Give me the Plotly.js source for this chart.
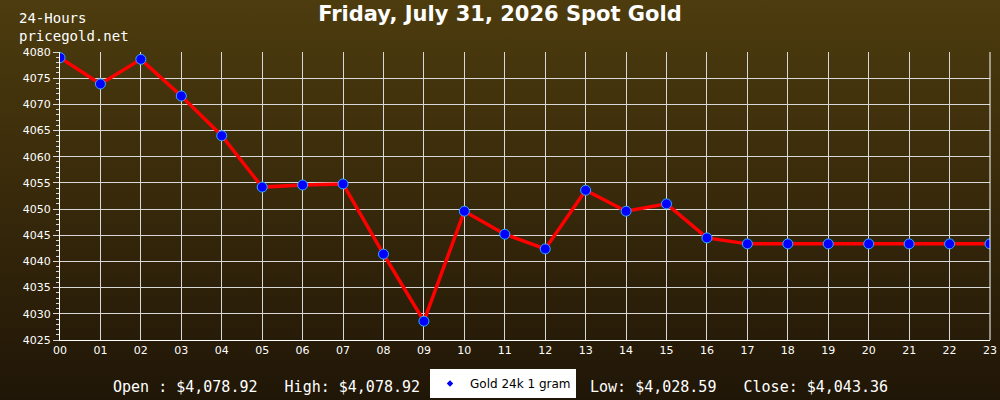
<!DOCTYPE html>
<html><head><meta charset="utf-8">
<script src="https://cdn.plot.ly/plotly-3.0.1.min.js"></script>
<style>
html,body{margin:0;padding:0;}
body{width:1000px;height:400px;background:linear-gradient(to bottom,#4d3c0e 0%,#3a2b0b 45%,#201607 100%);}
#chart{width:1000px;height:400px;}
</style></head><body>
<div id="chart"></div>
<script>
const hours = [0,1,2,3,4,5,6,7,8,9,10,11,12,13,14,15,16,17,18,19,20,21,22,23];
const hourLabels = ["00","01","02","03","04","05","06","07","08","09","10","11","12","13","14","15","16","17","18","19","20","21","22","23"];
const prices = [4078.92,4073.9,4078.6,4071.6,4064.0,4054.2,4054.6,4054.8,4041.4,4028.59,4049.6,4045.2,4042.4,4053.6,4049.6,4051.0,4044.5,4043.36,4043.36,4043.36,4043.36,4043.36,4043.36,4043.36];
const titleText = "Friday, July 31, 2026 Spot Gold";
const seriesName = "Gold 24k 1 gram";
const headerText = "24-Hours<br>pricegold.net";
const openText = "Open :\u00A0$4,078.92\u00A0\u00A0\u00A0High:\u00A0$4,078.92";
const lowText = "Low:\u00A0$4,028.59\u00A0\u00A0\u00A0Close:\u00A0$4,043.36";

const mono = "DejaVu Sans Mono, monospace";
const traces = [
  {x: hours, y: prices, type: 'scatter', mode: 'lines', showlegend: false,
   line: {color: '#ff0000', width: 3.5}, hoverinfo: 'skip'},
  {x: hours, y: prices, type: 'scatter', mode: 'markers', name: seriesName, showlegend: false,
   marker: {color: '#0000ff', size: 10, line: {color: '#33aaff', width: 1}}},
  {x: [null], y: [null], type: 'scatter', mode: 'markers', name: seriesName, showlegend: true,
   marker: {color: '#0000ff', size: 5, symbol: 'diamond'}}
];
const layout = {
  width: 1000, height: 400,
  margin: {l: 60, r: 10, t: 52, b: 60},
  paper_bgcolor: 'rgba(0,0,0,0)', plot_bgcolor: 'rgba(0,0,0,0)',
  title: {text: '<b>' + titleText + '</b>', font: {family: 'DejaVu Sans', size: 21, color: '#ffffff'},
          x: 0.5, xanchor: 'center', y: 0.965, yanchor: 'middle', yref: 'container'},
  xaxis: {range: [0, 23], tickvals: hours, ticktext: hourLabels, showgrid: true, gridcolor: '#d8d8d8', gridwidth: 1,
          zeroline: false, showline: true, linecolor: '#ffffff', linewidth: 1, ticks: '', automargin: false,
          tickfont: {family: 'DejaVu Sans', size: 11, color: '#ffffff'}, fixedrange: true},
  yaxis: {range: [4025, 4080], dtick: 5, tick0: 4025, showgrid: true, gridcolor: '#d8d8d8', gridwidth: 1, automargin: false,
          zeroline: false, showline: true, linecolor: '#ffffff', linewidth: 1, ticks: 'outside', ticklen: 6, tickcolor: '#d8d8d8',
          minor: {dtick: 1, ticks: 'outside', ticklen: 3, tickcolor: '#d8d8d8', showgrid: false},
          tickfont: {family: 'DejaVu Sans', size: 11, color: '#ffffff'}, fixedrange: true},
  shapes: [
    {type: 'line', xref: 'paper', yref: 'paper', x0: 1, x1: 1, y0: 0, y1: 1, line: {color: '#ffffff', width: 1}}
  ],
  legend: {x: 0.43, xref: 'container', xanchor: 'left', y: 0.0775, yref: 'container', yanchor: 'top', bgcolor: '#ffffff', borderwidth: 0,
           font: {family: 'DejaVu Sans', size: 12, color: '#000000'}, itemsizing: 'trace', itemwidth: 30, orientation: 'h'},
  annotations: [
    {text: headerText, xref: 'paper', yref: 'paper', x: -0.046, y: 1.088, xanchor: 'left', yanchor: 'middle', align: 'left', showarrow: false,
     font: {family: mono, size: 14, color: '#ffffff'}},
    {text: openText, xref: 'paper', yref: 'paper', x: 0.222, y: -0.163, xanchor: 'center', yanchor: 'middle', showarrow: false,
     font: {family: mono, size: 15, color: '#ffffff'}},
    {text: lowText, xref: 'paper', yref: 'paper', x: 0.7296, y: -0.163, xanchor: 'center', yanchor: 'middle', showarrow: false,
     font: {family: mono, size: 15, color: '#ffffff'}}
  ]
};
Plotly.newPlot('chart', traces, layout, {displayModeBar: false, staticPlot: true});
</script>
</body></html>
